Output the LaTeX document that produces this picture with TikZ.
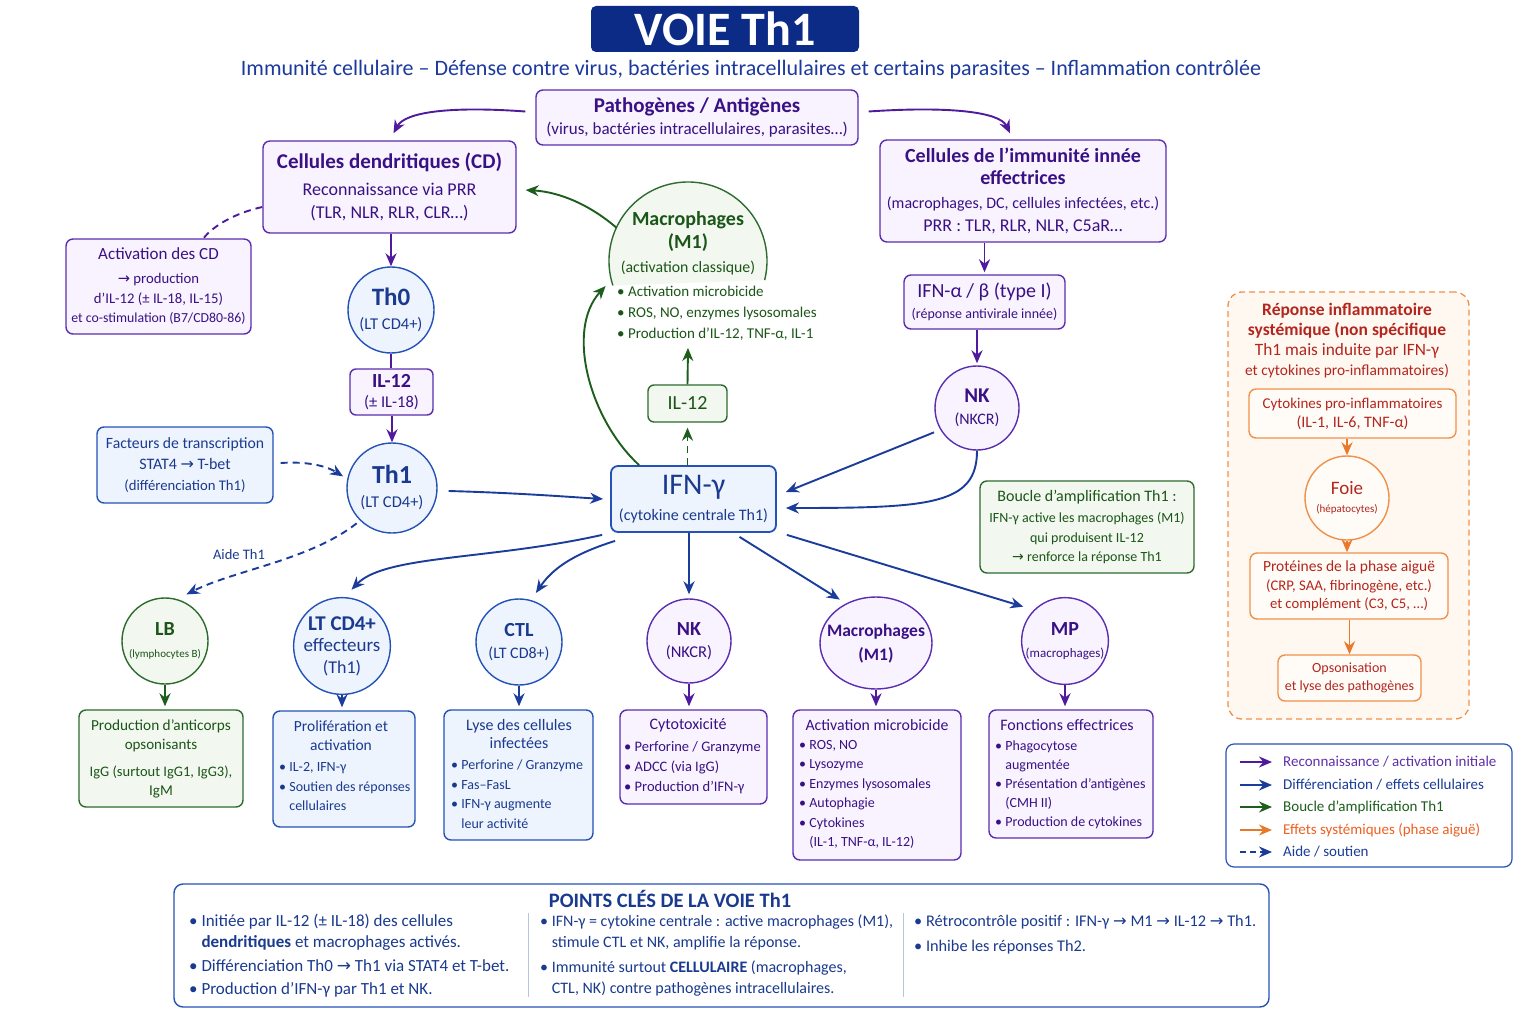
\documentclass[tikz,border=0pt]{standalone}
\usepackage{fontspec}
\setmainfont{Carlito}
\newfontfamily\symf{DejaVu Sans}
\usetikzlibrary{arrows.meta,calc,shapes.geometric}
\newcommand{\fz}[2]{\fontsize{#1}{#2}\selectfont}
\newcommand{\rarr}{{\symf →}}
\newcommand{\bul}{\textbullet\ }
\newcommand{\hang}{\phantom{\textbullet\ }}
\definecolor{navy}{HTML}{0B2B86}
\definecolor{subblue}{HTML}{1C3A9E}
\definecolor{pline}{HTML}{5B2DB0}
\definecolor{pfill}{HTML}{F8F3FE}
\definecolor{ptext}{HTML}{3A1185}
\definecolor{parrc}{HTML}{4F1A9E}
\definecolor{bline}{HTML}{2452B8}
\definecolor{bfill}{HTML}{EEF4FD}
\definecolor{btext}{HTML}{1A3A8F}
\definecolor{barrc}{HTML}{1A3C9A}
\definecolor{gline}{HTML}{2E6B2E}
\definecolor{gfill}{HTML}{F2F8EF}
\definecolor{gtext}{HTML}{1B5518}
\definecolor{garrc}{HTML}{1D5E1D}
\definecolor{oline}{HTML}{F0904A}
\definecolor{ofill}{HTML}{FFF8F1}
\definecolor{otext}{HTML}{B3261E}
\definecolor{oarrc}{HTML}{E8782A}
\definecolor{sepc}{HTML}{B8C4DC}
\begin{document}
\begin{tikzpicture}[x=1pt,y=-1pt,
  arrowhd/.style={-{Stealth[length=13pt,width=11pt]}},
  cbase/.style={line width=1.9pt},
  parr/.style={cbase,draw=parrc,arrowhd},
  barr/.style={cbase,draw=barrc,arrowhd},
  garr/.style={cbase,draw=garrc,arrowhd},
  oarr/.style={cbase,draw=oarrc,arrowhd},
  dsh/.style={dash pattern=on 7pt off 5pt},
  box/.style={draw,rounded corners=7pt,line width=1.4pt,inner sep=0pt,align=center},
  pbox/.style={box,draw=pline,fill=pfill,text=ptext},
  bbox/.style={box,draw=bline,fill=bfill,text=btext},
  gbox/.style={box,draw=gline,fill=gfill,text=gtext},
  obox/.style={box,draw=oline,fill=ofill!60!white,text=otext},
  circ/.style={circle,line width=1.4pt,inner sep=0pt,align=center},
  pcirc/.style={circ,draw=pline,fill=pfill,text=ptext},
  bcirc/.style={circ,draw=bline,fill=bfill,text=btext},
  gcirc/.style={circ,draw=gline,fill=gfill,text=gtext},
  ocirc/.style={circ,draw=oline,fill=ofill!60!white,text=otext},
  txt/.style={inner sep=0pt,align=center}
]
\fill[white] (0,0) rectangle (1536,1024);
\useasboundingbox (0,0) rectangle (1536,1024);

% ---------- header ----------
\node[fill=navy,rounded corners=5pt,minimum width=268,minimum height=46,text=white,font=\fz{48}{48}\bfseries,inner sep=0pt] (title) at (725,29) {VOIE Th1};
\node[txt,text=subblue,font=\fz{22}{24}] (sub) at (751,70) {Immunité cellulaire – Défense contre virus, bactéries intracellulaires et certains parasites – Inflammation contrôlée};

\node[pbox,minimum width=322,minimum height=55,font=\fz{17}{22}] (path) at (697,117.5) {{\fz{21}{22}\bfseries Pathogènes / Antigènes}\\(virus, bactéries intracellulaires, parasites…)};

% ---------- left column ----------
\node[pbox,minimum width=253,minimum height=92,font=\fz{18}{23}] (cd) at (389.5,187) {{\fz{21}{23}\bfseries Cellules dendritiques (CD)}\\[4pt]Reconnaissance via PRR\\(TLR, NLR, RLR, CLR…)};
\node[pbox,minimum width=185,minimum height=95,font=\fz{14.7}{19.5}] (act) at (158.5,286.5) {{\fz{17}{19.5}Activation des CD}\\[4.5pt]\rarr{} production\\d’IL-12 (± IL-18, IL-15)\\{\fz{13.8}{19.5}et co-stimulation (B7/CD80-86)}};
\node[bcirc,minimum size=86,font=\fz{16.5}{24}] (th0) at (391,310) {{\fz{25}{24}\bfseries Th0}\\(LT CD4+)};
\node[pbox,minimum width=83,minimum height=46,rounded corners=6pt,font=\fz{16.5}{20}] (il12a) at (391.5,392) {{\fz{20}{20}\bfseries IL-12}\\(± IL-18)};
\node[bcirc,minimum size=90,font=\fz{16.5}{24}] (th1) at (392,488) {{\fz{26}{24}\bfseries Th1}\\(LT CD4+)};
\node[bbox,minimum width=176,minimum height=76,font=\fz{14.7}{21}] (fact) at (185,465) {{\fz{15.7}{21}Facteurs de transcription}\\{\fz{16}{21}STAT4 \rarr{} T-bet}\\(différenciation Th1)};

% ---------- centre ----------
\node[bbox,minimum width=165,minimum height=66,line width=1.8pt,font=\fz{16}{26}] (ifng) at (693.5,499) {{\fz{30}{26}IFN-γ}\\(cytokine centrale Th1)};
\node[circle,minimum size=158,inner sep=0pt] (mac1) at (688,261) {};
\draw[gline,fill=gfill,line width=1.4pt] ([shift={(162:79)}]mac1.center) arc[start angle=162,end angle=374,radius=79];
\node[txt,text=gtext,font=\fz{15.8}{23.5}] (mac1t) at (688,243) {{\fz{20}{23.5}\bfseries Macrophages}\\{\fz{20}{23.5}\bfseries (M1)}\\(activation classique)};
\node[txt,align=left,anchor=west,text=gtext,font=\fz{15}{21}] (mac1l) at (617,313) {\bul Activation microbicide\\\bul ROS, NO, enzymes lysosomales\\\bul Production d’IL-12, TNF-α, IL-1};
\node[gbox,minimum width=79,minimum height=37,rounded corners=6pt,font=\fz{20}{20}] (il12b) at (687.5,403.5) {IL-12};
\coordinate (m1list) at (688,348);

% ---------- right column ----------
\node[pbox,minimum width=286,minimum height=102,font=\fz{18}{22}] (innate) at (1023,191) {{\fz{20}{22}\bfseries Cellules de l’immunité innée}\\{\fz{20}{22}\bfseries effectrices}\\[2pt]{\fz{16}{22}(macrophages, DC, cellules infectées, etc.)}\\[1pt]PRR : TLR, RLR, NLR, C5aR…};
\node[pbox,minimum width=161,minimum height=54,font=\fz{14}{21}] (ifnab) at (984.5,302) {{\fz{20}{21}IFN-α / β (type I)}\\(réponse antivirale innée)};
\node[pcirc,minimum size=84,font=\fz{16}{22}] (nk1) at (977,408) {{\fz{21}{22}\bfseries NK}\\(NKCR)};
\node[gbox,minimum width=214,minimum height=92,font=\fz{14}{19.5}] (boucle) at (1087,527) {{\fz{16}{19.5}Boucle d’amplification Th1 :}\\[1.5pt]IFN-γ active les macrophages (M1)\\qui produisent IL-12\\\rarr{} renforce la réponse Th1};

% ---------- systemic panel ----------
\node[draw=oline,fill=ofill,dash pattern=on 6pt off 4pt,rounded corners=14pt,line width=1.3pt,minimum width=241,minimum height=427,inner sep=0pt] (panel) at (1348.5,505.5) {};
\node[txt,text=otext,font=\fz{15.4}{19.8}] (panelt) at (1347,340.5) {{\fz{17.5}{19.8}\bfseries Réponse inflammatoire}\\{\fz{17.5}{19.8}\bfseries systémique (non spécifique}\\{\fz{17.3}{19.8}Th1 mais induite par IFN-γ}\\et cytokines pro-inflammatoires)};
\node[obox,minimum width=207,minimum height=49,font=\fz{16}{19}] (cyt) at (1352.5,413.5) {{\fz{15}{19}Cytokines pro-inflammatoires}\\(IL-1, IL-6, TNF-α)};
\node[ocirc,minimum size=84,font=\fz{11}{18}] (foie) at (1347,498) {{\fz{19}{18}Foie}\\(hépatocytes)};
\node[obox,minimum width=198,minimum height=66,font=\fz{14.7}{18.5}] (prot) at (1349,586) {{\fz{15.5}{18.5}Protéines de la phase aiguë}\\(CRP, SAA, fibrinogène, etc.)\\et complément (C3, C5, …)};
\node[obox,minimum width=143,minimum height=46,font=\fz{14}{18}] (ops) at (1349.5,678) {Opsonisation\\et lyse des pathogènes};

% ---------- legend ----------
\node[draw=bline,rounded corners=8pt,line width=1.2pt,fill=white,minimum width=286,minimum height=123,inner sep=0pt] (legend) at (1369,805.5) {};
\foreach \i/\yy in {1/762,2/785,3/807,4/830,5/852}{
  \coordinate (lga\i) at (1240,\yy);
  \coordinate (lgb\i) at (1272,\yy);
}
\draw[parr] (lga1) -- (lgb1);
\draw[barr] (lga2) -- (lgb2);
\draw[garr] (lga3) -- (lgb3);
\draw[oarr] (lga4) -- (lgb4);
\draw[barr,dash pattern=on 6pt off 4pt] (lga5) -- (lgb5);
\node[txt,anchor=west,text=parrc!90!white,font=\fz{15}{18}] (lgt1) at (1283,762) {Reconnaissance / activation initiale};
\node[txt,anchor=west,text=barrc,font=\fz{15}{18}] (lgt2) at (1283,785) {Différenciation / effets cellulaires};
\node[txt,anchor=west,text=garrc,font=\fz{15}{18}] (lgt3) at (1283,807) {Boucle d’amplification Th1};
\node[txt,anchor=west,text=oarrc!80!red,font=\fz{15}{18}] (lgt4) at (1283,830) {Effets systémiques (phase aiguë)};
\node[txt,anchor=west,text=barrc,font=\fz{15}{18}] (lgt5) at (1283,852) {Aide / soutien};

% ---------- bottom row ----------
\node[gcirc,minimum size=86,font=\fz{11}{22}] (lb) at (165,641) {{\fz{20}{22}\bfseries LB}\\(lymphocytes B)};
\node[gbox,minimum width=164,minimum height=97,font=\fz{15}{19}] (lbbox) at (161,758.5) {{\fz{15.3}{19}Production d’anticorps}\\opsonisants\\[8pt]{\fz{14.5}{19}IgG (surtout IgG1, IgG3),}\\IgM};

\node[bcirc,minimum size=94,font=\fz{18}{21.5}] (ltc) at (342,646) {{\fz{21}{21.5}\bfseries LT CD4+}\\{\fz{19}{21.5}effecteurs}\\(Th1)};
\node[bbox,minimum width=142,minimum height=116] (ltbox) at (344,769) {};
\node[txt,text=btext,font=\fz{15.5}{19}] (ltboxt) at (341,735.5) {Prolifération et\\activation};
\node[txt,align=left,anchor=west,text=btext,font=\fz{14}{19.5}] (ltboxl) at (279,787) {\bul IL-2, IFN-γ\\\bul Soutien des réponses\\\hang cellulaires};

\node[bcirc,minimum size=86,font=\fz{16}{22}] (ctl) at (519,642) {{\fz{20}{22}\bfseries CTL}\\(LT CD8+)};
\node[bbox,minimum width=149,minimum height=130] (ctlbox) at (518.5,775) {};
\node[txt,text=btext,font=\fz{16}{18}] (ctlboxt) at (519,734) {Lyse des cellules\\infectées};
\node[txt,align=left,anchor=west,text=btext,font=\fz{14}{19.5}] (ctlboxl) at (451,794) {\bul Perforine / Granzyme\\\bul Fas–FasL\\\bul IFN-γ augmente\\\hang leur activité};

\node[pcirc,minimum size=84,font=\fz{16.5}{22}] (nk2) at (689,641) {{\fz{20}{22}\bfseries NK}\\(NKCR)};
\node[pbox,minimum width=147,minimum height=94] (nkbox) at (693.5,757) {};
\node[txt,text=ptext,font=\fz{16}{20}] (nkboxt) at (688,725) {Cytotoxicité};
\node[txt,align=left,anchor=west,text=ptext,font=\fz{14.5}{20}] (nkboxl) at (624,768) {\bul Perforine / Granzyme\\\bul ADCC (via IgG)\\\bul Production d’IFN-γ};

\node[ellipse,line width=1.4pt,draw=pline,fill=pfill,inner sep=0pt,minimum width=112,minimum height=92] (mac2) at (876,643) {};
\node[txt,text=ptext,font=\fz{17.5}{24}\bfseries] (mac2t) at (876,644) {Macrophages\\(M1)};
\node[pbox,minimum width=168,minimum height=150] (macbox) at (877,785) {};
\node[txt,text=ptext,font=\fz{15.8}{20}] (macboxt) at (877,725) {Activation microbicide};
\node[txt,align=left,anchor=west,text=ptext,font=\fz{14}{19.4}] (macboxl) at (799,794.5) {\bul ROS, NO\\\bul Lysozyme\\\bul Enzymes lysosomales\\\bul Autophagie\\\bul Cytokines\\\hang (IL-1, TNF-α, IL-12)};

\node[pcirc,minimum size=86,font=\fz{13}{22}] (mp) at (1065,641) {{\fz{20}{22}\bfseries MP}\\(macrophages)};
\node[pbox,minimum width=164,minimum height=128] (mpbox) at (1071,774) {};
\node[txt,text=ptext,font=\fz{16}{20}] (mpboxt) at (1067,725) {Fonctions effectrices};
\node[txt,align=left,anchor=west,text=ptext,font=\fz{14}{19}] (mpboxl) at (995,784.6) {\bul Phagocytose\\\hang augmentée\\\bul Présentation d’antigènes\\\hang (CMH II)\\\bul Production de cytokines};

% ---------- key points ----------
\node[draw=bline,rounded corners=9pt,line width=1.4pt,fill=white,minimum width=1095,minimum height=123,inner sep=0pt] (keys) at (721.5,945.5) {};
\node[txt,text=btext,font=\fz{20.5}{22}\bfseries] (keyst) at (670,899) {POINTS CLÉS DE LA VOIE Th1};
\coordinate (sep1a) at (528,913); \coordinate (sep1b) at (528,997);
\coordinate (sep2a) at (903,913); \coordinate (sep2b) at (903,997);
\draw[sepc,line width=1pt] (sep1a) -- (sep1b);
\draw[sepc,line width=1pt] (sep2a) -- (sep2b);
\node[txt,align=left,anchor=west,text=btext,font=\fz{17}{21.5}] (keysc1) at (189,955.5) {\bul Initiée par IL-12 (± IL-18) des cellules\\\hang\textbf{dendritiques} et macrophages activés.\\[2.5pt]\bul Différenciation Th0 \rarr{} Th1 via STAT4 et T-bet.\\[1.5pt]\bul Production d’IFN-γ par Th1 et NK.};
\node[txt,align=left,anchor=west,text=btext,font=\fz{16}{21.5}] (keysc2) at (540,955.5) {\bul IFN-γ = cytokine centrale : active macrophages (M1),\\\hang stimule CTL et NK, amplifie la réponse.\\[3pt]\bul Immunité surtout \textbf{CELLULAIRE} (macrophages,\\\hang CTL, NK) contre pathogènes intracellulaires.};
\node[txt,align=left,anchor=west,text=btext,font=\fz{16.3}{21.5}] (keysc3) at (914,934.5) {\bul Rétrocontrôle positif : IFN-γ \rarr{} M1 \rarr{} IL-12 \rarr{} Th1.\\[3.5pt]\bul Inhibe les réponses Th2.};

% ---------- connectors ----------
\draw[parr] ([xshift=-10pt,yshift=6pt]path.west) .. controls (450,106) and (405,112) .. ([xshift=4pt,yshift=7pt]cd.north);
\draw[parr] ([xshift=10pt,yshift=6pt]path.east) .. controls (950,106) and (1000,112) .. ([xshift=-13pt,yshift=6pt]innate.north);
\draw[cbase,draw=parrc,dsh] ([yshift=-20pt]cd.west) .. controls (235,213) and (213,226) .. ([xshift=45pt]act.north);
\draw[parr] (cd.south -| th0.north) -- (th0.north);
\draw[cbase,draw=parrc] (th0.south) -- (il12a.north -| th0.south);
\draw[parr] (il12a.south -| th1.north) -- (th1.north);
\draw[barr,dsh] ([xshift=7pt,yshift=2pt]fact.east) .. controls (310,461) and (328,467) .. ([xshift=-6pt,yshift=-4pt]th1.160);
\draw[barr] ([xshift=11pt,yshift=-3pt]th1.east) .. controls (520,493) and (570,497) .. ([xshift=-7pt]ifng.west);
\draw[barr,dsh] ([xshift=-3pt,yshift=-3pt]th1.225) .. controls (310,560) and (235,570) .. ([xshift=3pt,yshift=7pt]lb.65);
\node[txt,text=btext,font=\fz{14.5}{16}] (aide) at (239,555) {Aide Th1};
\draw[barr] ([xshift=-8pt,yshift=-2pt]ifng.south west) .. controls (490,560) and (385,555) .. ([xshift=1pt,yshift=8pt]ltc.80);
\draw[barr] ([xshift=5pt,yshift=-8pt]ifng.south west) .. controls (580,552) and (555,565) .. ([xshift=2pt,yshift=8pt]ctl.70);
\draw[barr] (ifng.south -| nk2.north) -- ([yshift=4pt]nk2.north);
\draw[barr] ([xshift=46pt,yshift=-4pt]ifng.south) -- ([xshift=-4pt,yshift=5pt]mac2.130);
\draw[barr] ([xshift=10pt,yshift=-2pt]ifng.south east) -- ([xshift=-8pt,yshift=6pt]mp.140);
\draw[barr] ([xshift=-6pt,yshift=-3pt]nk1.210) -- ([xshift=9pt,yshift=7pt]ifng.east);
\draw[barr] (nk1.south) .. controls (977,505) and (930,508) .. ([xshift=9pt,yshift=-9pt]ifng.east);
\draw[garr] ([xshift=29pt]ifng.north west) .. controls (590,420) and (565,330) .. ([xshift=-8pt,yshift=2pt]mac1.200);
\draw[garr] (mac1.155) .. controls (590,205) and (560,192) .. ([xshift=9pt,yshift=-3pt]cd.east);
\draw[garr,dsh] (ifng.north -| il12b.south) -- ([yshift=-5pt]il12b.south);
\draw[garr] (il12b.north) -- (m1list);
\draw[parr] (innate.south -| ifnab.north) -- ([yshift=2pt]ifnab.north);
\draw[parr] (ifnab.south -| nk1.north) -- ([yshift=2pt]nk1.north);
\draw[oarr] (cyt.south -| foie.north) -- (foie.north);
\draw[oarr] (foie.south) -- (prot.north -| foie.south);
\draw[oarr] (prot.south -| ops.north) -- (ops.north);
\draw[garr] (lb.south) -- ([yshift=3pt]lb.south |- lbbox.north);
\draw[barr] (ltc.south) -- ([yshift=3pt]ltc.south |- ltbox.north);
\draw[barr] (ctl.south) -- ([yshift=3pt]ctl.south |- ctlbox.north);
\draw[parr] (nk2.south) -- ([yshift=3pt]nk2.south |- nkbox.north);
\draw[parr] (mac2.south) -- ([yshift=3pt]mac2.south |- macbox.north);
\draw[parr] (mp.south) -- ([yshift=3pt]mp.south |- mpbox.north);
\end{tikzpicture}
\end{document}
